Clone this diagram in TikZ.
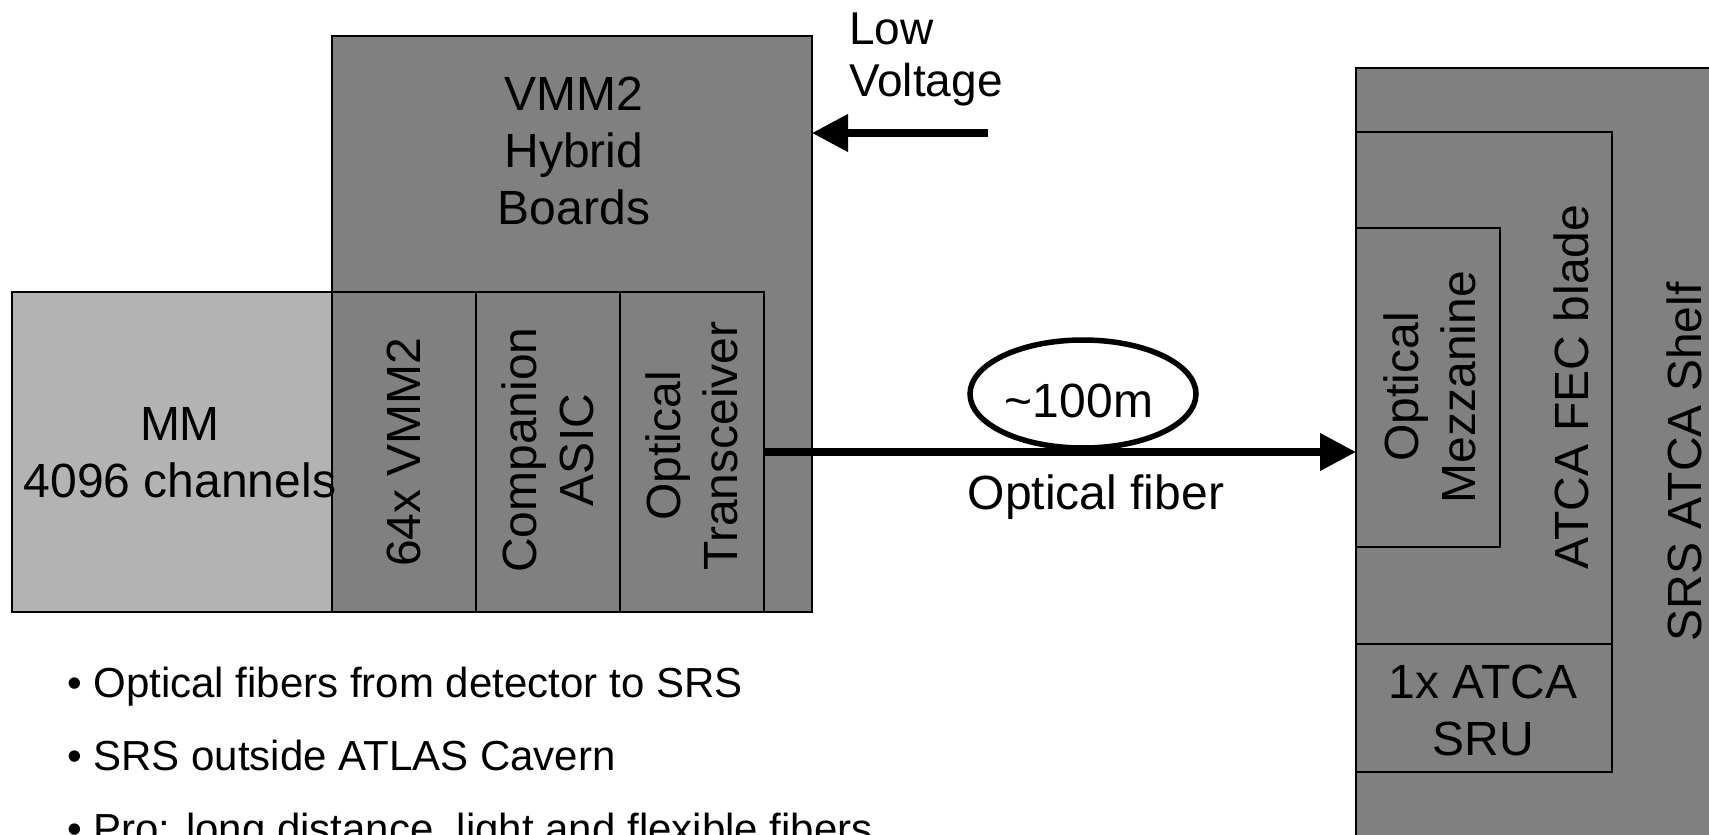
\documentclass[tikz,border=0pt]{standalone}
\usepackage{fontspec}
\setmainfont{Liberation Sans}
\usetikzlibrary{arrows.meta,shapes.geometric}
\definecolor{boardgray}{RGB}{128,128,128}
\definecolor{detgray}{RGB}{179,179,179}
\tikzset{
  box/.style={draw=black, line width=1.5pt, fill=boardgray, anchor=north west, inner sep=0pt, outer sep=0pt},
  lbl/.style={font=\fontsize{48}{57}\selectfont, align=center, inner sep=0pt},
  bullettxt/.style={font=\fontsize{42}{50}\selectfont, anchor=base west, inner sep=0pt},
  fat/.style={line width=7.5pt, -{Triangle[length=36pt,width=36pt]}}
}
\begin{document}
\begin{tikzpicture}[x=1pt,y=1pt]
  \useasboundingbox (0,0) rectangle (1709,-835);
  \clip (0,0) rectangle (1709,-835);
  % SRS side
  \node[box, minimum width=400pt, minimum height=830pt] (shelf) at (1356,-68) {};
  \node[box, minimum width=256pt, minimum height=512pt] (blade) at (1356,-132) {};
  \node[box, minimum width=144pt, minimum height=319pt] (mezz) at (1356,-228) {};
  \node[box, minimum width=256pt, minimum height=128pt] (sru) at (1356,-644) {};
  \node[lbl, rotate=90] (shelftxt) at (1684,-462) {SRS ATCA Shelf};
  \node[lbl, rotate=90] (bladetxt) at (1571,-387) {ATCA FEC blade};
  \node[lbl, rotate=90] (mezztxt) at (1430,-387) {Optical\\Mezzanine};
  \node[lbl] (srutxt) at (1483,-710) {1x ATCA\\SRU};
  % detector side
  \node[box, fill=detgray, minimum width=336pt, minimum height=320pt] (mm) at (12,-292) {};
  \node[box, minimum width=480pt, minimum height=576pt] (hybrid) at (332,-36) {};
  \node[box, minimum width=144pt, minimum height=320pt] (vmm) at (332,-292) {};
  \node[box, minimum width=144pt, minimum height=320pt] (asic) at (476,-292) {};
  \node[box, minimum width=144pt, minimum height=320pt] (xcvr) at (620,-292) {};
  \node[lbl] (mmtxt) at (180,-453) {MM\\4096 channels};
  \node[lbl] (hybtxt) at (574,-151) {VMM2\\Hybrid\\Boards};
  \node[lbl, rotate=90] (vmmtxt) at (404,-452) {64x VMM2};
  \node[lbl, rotate=90] (asictxt) at (548,-450) {Companion\\ASIC};
  \node[lbl, rotate=90] (xcvrtxt) at (692,-446) {Optical\\Transceiver};
  % power and fiber
  \node[lbl, align=left, anchor=west, font=\fontsize{46}{52}\selectfont] (lvtxt) at (849,-59) {Low\\Voltage};
  \coordinate (lvtail) at (988,-133);
  \draw[fat] (lvtail) -- (lvtail -| hybrid.east);
  \draw[fat] (xcvr.east) -- (xcvr.east -| shelf.west);
  \node[draw, ellipse, line width=5.5pt, minimum width=226pt, minimum height=108pt, inner sep=0pt] (loop) at (1083,-394) {};
  \node[lbl] (lentxt) at (1079,-401) {\textasciitilde 100m};
  \node[lbl] (fibertxt) at (1096,-497) {Optical fiber};
  % notes
  \node[bullettxt] (note1) at (67,-697) {\textbullet\ Optical fibers from detector to SRS};
  \node[bullettxt] (note2) at (67,-770) {\textbullet\ SRS outside ATLAS Cavern};
  \node[bullettxt] (note3) at (67,-843) {\textbullet\ Pro: long distance, light and flexible fibers};
\end{tikzpicture}
\end{document}
